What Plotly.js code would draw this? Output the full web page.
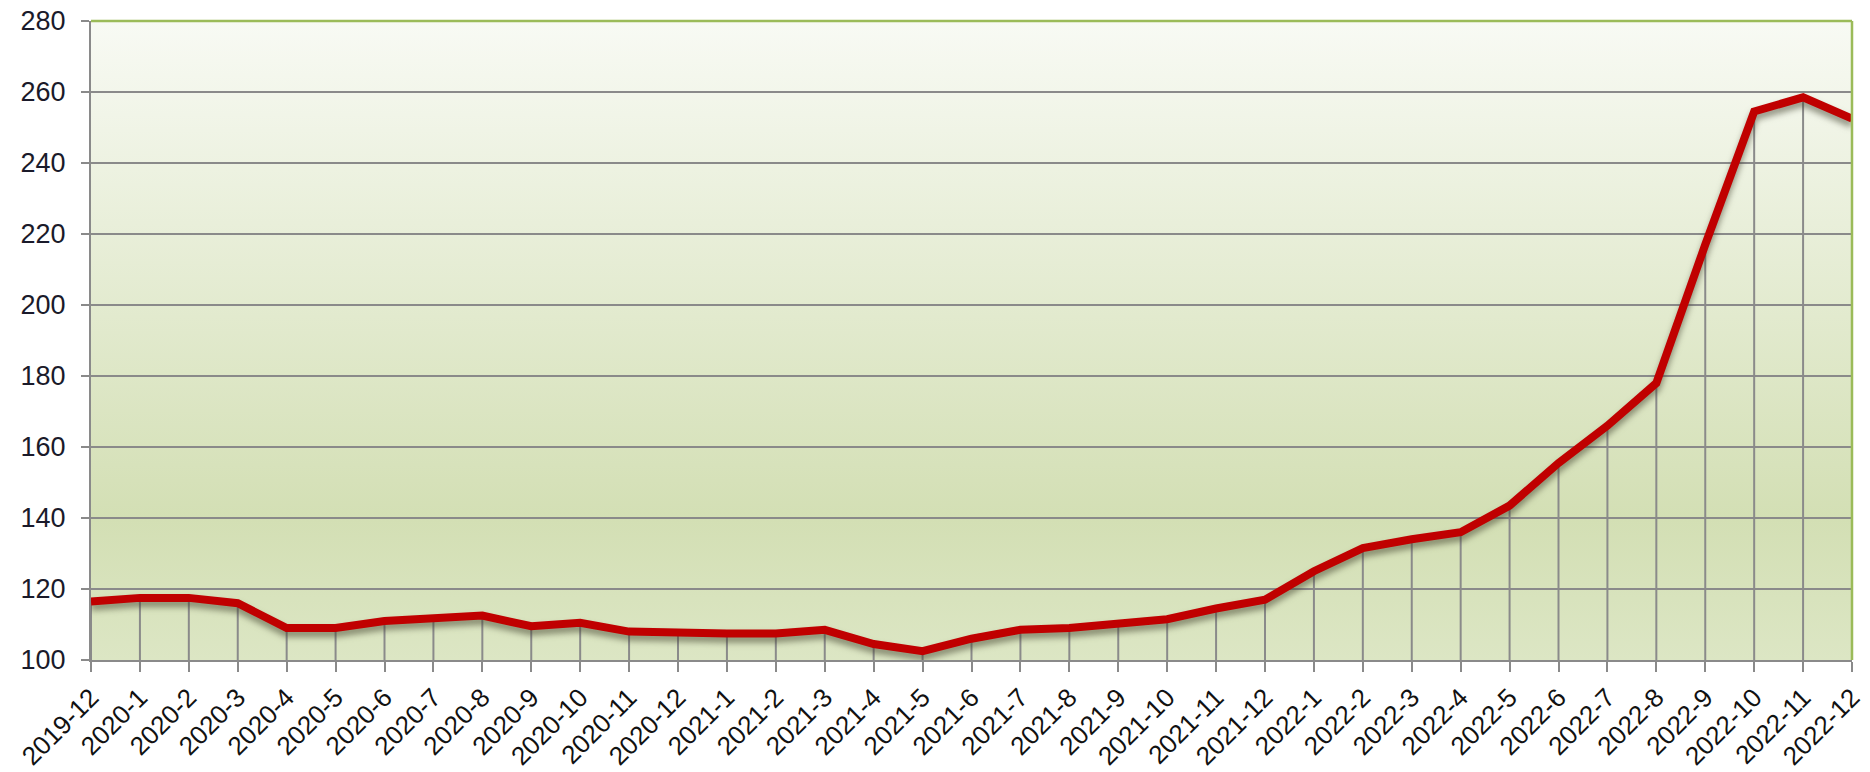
<!DOCTYPE html>
<html>
<head>
<meta charset="utf-8">
<script src="https://cdn.plot.ly/plotly-3.0.1.min.js"></script>
<style>
html,body{margin:0;padding:0;background:#fff;}
#chart{width:1870px;height:772px;}
</style>
</head>
<body>
<div id="chart"></div>
<script>
const months = ["2019-12","2020-1","2020-2","2020-3","2020-4","2020-5","2020-6","2020-7","2020-8","2020-9","2020-10","2020-11","2020-12","2021-1","2021-2","2021-3","2021-4","2021-5","2021-6","2021-7","2021-8","2021-9","2021-10","2021-11","2021-12","2022-1","2022-2","2022-3","2022-4","2022-5","2022-6","2022-7","2022-8","2022-9","2022-10","2022-11","2022-12"];
const values = [116.5,117.5,117.5,116,109,109,111,112,112.5,109.5,110.5,108,107.5,107.5,107.5,108.5,104.5,102.5,106,108.5,109,110,111.5,114.5,117,125,131.5,134,136,143.5,155.5,166,178,217,254.5,258.5,252.5];
const yTicks = [100,120,140,160,180,200,220,240,260,280];
const yMin = 100, yMax = 280;

const bgSvg = 'data:image/svg+xml;utf8,' + encodeURIComponent(
  '<svg xmlns="http://www.w3.org/2000/svg" width="100" height="100" viewBox="0 0 100 100" preserveAspectRatio="none">' +
  '<defs><linearGradient id="g" x1="0" y1="0" x2="0" y2="1">' +
  '<stop offset="0" stop-color="#f8faf4"/><stop offset="0.78" stop-color="#d3dfb4"/><stop offset="1" stop-color="#dce6c4"/>' +
  '</linearGradient></defs><rect width="100" height="100" fill="url(#g)"/></svg>');

const dropTrace = {
  x: months, y: values, type: 'scatter', mode: 'markers',
  marker: {size: 0.1, color: 'rgba(0,0,0,0)'},
  error_y: {type: 'data', symmetric: false, array: values.map(() => 0),
            arrayminus: values.map(v => v - yMin), color: '#8a8a8a', thickness: 2, width: 0},
  hoverinfo: 'skip', showlegend: false
};
const lineTrace = {
  x: months, y: values, type: 'scatter', mode: 'lines',
  line: {color: '#c00000', width: 8},
  showlegend: false
};

const layout = {
  width: 1870, height: 772,
  margin: {l: 91, r: 18, t: 21, b: 112},
  paper_bgcolor: '#ffffff',
  plot_bgcolor: 'rgba(0,0,0,0)',
  font: {family: 'Liberation Sans, Arial, sans-serif', color: '#1a1a1a'},
  xaxis: {
    type: 'category', range: [0, months.length - 1],
    showgrid: false, zeroline: false,
    showline: true, linecolor: '#8a8a8a', linewidth: 2,
    ticks: 'outside', ticklen: 10, tickwidth: 2, tickcolor: '#8a8a8a',
    tickangle: -45, tickfont: {size: 26, color: '#111'}
  },
  yaxis: {
    range: [yMin, yMax], tickvals: yTicks, ticktext: yTicks.map(String),
    showgrid: true, gridcolor: '#8a8a8a', gridwidth: 2, zeroline: false,
    showline: true, linecolor: '#8a8a8a', linewidth: 2,
    ticks: 'outside', ticklen: 8, tickwidth: 2, tickcolor: '#8a8a8a',
    tickfont: {size: 27, color: '#1a1a2a'}, ticklabelstandoff: 10
  },
  images: [{source: bgSvg, xref: 'paper', yref: 'paper', x: 0, y: 1, sizex: 1, sizey: 1,
            sizing: 'stretch', layer: 'below', xanchor: 'left', yanchor: 'top'}],
  shapes: [
    {type: 'line', xref: 'paper', yref: 'paper', x0: 0, x1: 1, y0: 1, y1: 1, line: {color: '#9bbb59', width: 2.5}},
    {type: 'line', xref: 'paper', yref: 'paper', x0: 1, x1: 1, y0: 0, y1: 1, line: {color: '#9bbb59', width: 2.5}}
  ]
};

Plotly.newPlot('chart', [dropTrace, lineTrace], layout, {displayModeBar: false, staticPlot: true}).then(() => {
  document.querySelectorAll('.scatterlayer .trace:last-child path.js-line').forEach(p => {
    p.style.filter = 'drop-shadow(0px 5px 3px rgba(60,60,40,0.55))';
  });
});
</script>
</body>
</html>
